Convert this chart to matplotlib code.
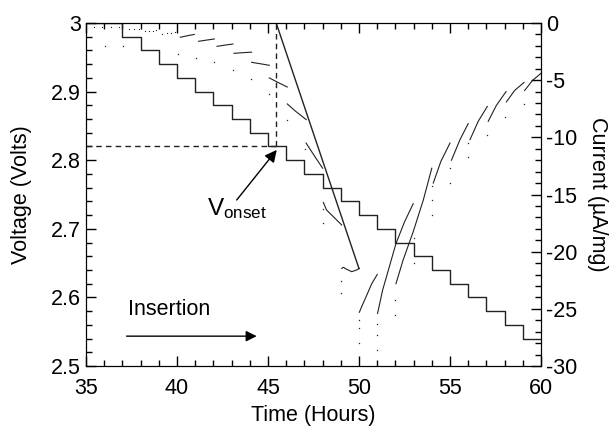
import matplotlib
matplotlib.use("Agg")
import matplotlib.pyplot as plt
from matplotlib.ticker import MultipleLocator, FuncFormatter

plt.rcParams['font.family'] = ['Liberation Sans', 'DejaVu Sans']
plt.rcParams['axes.unicode_minus'] = False
plt.rcParams['mathtext.fontset'] = 'custom'
plt.rcParams['mathtext.rm'] = 'Liberation Sans'

# ---- Voltage staircase (left axis) ----
step_edges = [35, 37, 38, 39, 40, 41, 42, 43, 44, 45, 46, 47, 48, 49, 50,
              51, 52, 53, 54, 55, 56, 57, 58, 59, 60]
step_volts = [3.00, 2.98, 2.96, 2.94, 2.92, 2.90, 2.88, 2.86, 2.84, 2.82,
              2.80, 2.78, 2.76, 2.74, 2.72, 2.70, 2.68, 2.66, 2.64, 2.62,
              2.60, 2.58, 2.56, 2.54]

# ---- Current (right axis): sparse early dots ----
early_t = [35.46, 35.90, 36.40, 36.80, 37.38, 37.65, 37.93,
           38.26, 38.48, 38.66, 38.85, 39.20, 39.43, 39.67, 39.90]
early_I = [-0.38, -0.38, -0.36, -0.35, -0.52, -0.52, -0.50,
           -0.70, -0.68, -0.66, -0.64, -0.93, -0.89, -0.85, -0.82]

# ---- Current relaxation segments (one per potential step) ----
seg_t = [
    [40.18, 40.55, 40.95],
    [41.19, 41.60, 42.05],
    [42.20, 42.60, 43.07],
    [43.13, 43.60, 44.10],
    [44.10, 44.60, 45.07],
    [45.07, 45.55, 46.06],
    [46.06, 46.50, 47.10],
    [47.09, 47.50, 48.00],
    [48.04, 48.22, 48.59, 49.05],
    [49.05, 49.14, 49.32, 49.60, 49.87, 50.02],
    [50.02, 50.15, 50.40, 50.70, 51.00],
    [51.02, 51.30, 51.67, 52.03, 52.50, 52.98],
    [52.03, 52.43, 52.98, 53.53, 54.00],
    [54.08, 54.50, 55.00],
    [55.08, 55.55, 56.00],
    [56.10, 56.55, 57.05],
    [57.10, 57.55, 58.08],
    [58.10, 58.55, 59.07],
    [59.10, 59.55, 60.00],
]
seg_I = [
    [-1.25, -1.12, -1.00],
    [-1.60, -1.50, -1.40],
    [-2.04, -1.94, -1.84],
    [-2.65, -2.60, -2.55],
    [-3.44, -3.57, -3.70],
    [-4.80, -5.20, -5.60],
    [-7.08, -7.70, -8.45],
    [-10.5, -11.5, -12.7],
    [-15.7, -16.36, -16.94, -17.67],
    [-21.46, -21.37, -21.54, -21.75, -21.60, -21.46],
    [-25.3, -24.8, -23.9, -22.8, -22.0],
    [-25.4, -23.35, -21.3, -19.3, -17.4, -15.8],
    [-22.8, -20.7, -18.25, -15.5, -12.7],
    [-14.0, -12.1, -10.5],
    [-12.0, -10.2, -8.8],
    [-10.2, -8.6, -7.3],
    [-8.6, -7.2, -6.0],
    [-6.9, -5.9, -5.2],
    [-5.9, -5.0, -4.4],
]

# ---- Isolated first points after each step ----
spike_t = [36.05, 37.05, 40.05, 41.05, 42.06, 43.08, 44.06, 45.07, 46.06, 47.03,
           48.02, 48.02, 49.00, 49.00, 50.00, 50.00, 50.00, 51.00, 51.00, 51.00,
           52.00, 52.00, 53.00, 53.00, 54.03, 54.03, 54.03, 55.00, 55.00, 56.00,
           56.00, 57.05, 58.04, 59.07]
spike_I = [-2.0, -2.05, -2.7, -3.05, -3.44, -4.08, -4.87, -6.2, -8.45, -11.05,
           -16.3, -17.5, -22.6, -23.6, -26.0, -26.7, -28.0, -26.3, -27.3, -28.6,
           -24.2, -25.5, -21.0, -18.8, -14.3, -15.5, -16.8, -12.7, -14.0, -10.5,
           -11.7, -9.8, -8.25, -7.1]

# ---- Annotations ----
tangent_t = [45.45, 50.0]
tangent_V = [3.0, 2.642]
onset_t = 45.42
onset_V = 2.82

fig = plt.figure(figsize=(6.16, 4.32), dpi=100)
ax = fig.add_axes([86/616, 1-366/432, (541-86)/616, (366-23)/432])
ax2 = ax.twinx()

fs = 15.5
ink = '#222222'
ax.step(step_edges, step_volts + [step_volts[-1]], where='post', color=ink, lw=1.0)
ax.plot(tangent_t, tangent_V, color=ink, lw=1.0)
ax.plot([35, onset_t], [onset_V, onset_V], color=ink, lw=1.0, dashes=(4, 3))
ax.plot([onset_t, onset_t], [onset_V, 3.0], color=ink, lw=1.0, dashes=(4, 3))

ax2.plot(early_t, early_I, ls='none', marker='s', ms=0.8, mew=0, color=ink)
for ts, cs in zip(seg_t, seg_I):
    ax2.plot(ts, cs, color=ink, lw=0.8)
ax2.plot(spike_t, spike_I, ls='none', marker='s', ms=0.9, mew=0, color=ink)

ax.set_xlim(35, 60)
ax.set_ylim(2.5, 3.0)
ax2.set_ylim(-30, 0)

ax.xaxis.set_major_locator(MultipleLocator(5))
ax.xaxis.set_minor_locator(MultipleLocator(1))
ax.yaxis.set_major_locator(MultipleLocator(0.1))
ax.yaxis.set_minor_locator(MultipleLocator(0.02))
ax2.yaxis.set_major_locator(MultipleLocator(5))
ax2.yaxis.set_minor_locator(MultipleLocator(1))

ax.yaxis.set_major_formatter(FuncFormatter(lambda v, p: f"{v:g}"))
ax2.yaxis.set_major_formatter(FuncFormatter(lambda v, p: f"{v:g}"))

ax.tick_params(axis='x', which='both', direction='in', top=True, labelsize=fs, pad=9)
ax.tick_params(axis='y', which='both', direction='in', right=False, labelsize=fs)
ax.tick_params(which='major', length=7, width=1)
ax.tick_params(which='minor', length=4, width=1)
ax2.tick_params(axis='y', which='both', direction='in', labelsize=fs)
ax2.tick_params(which='major', length=7, width=1)
ax2.tick_params(which='minor', length=4, width=1)

ax.set_xlabel("Time (Hours)", fontsize=fs, labelpad=4)
ax.set_ylabel("Voltage (Volts)", fontsize=fs, labelpad=14)
ax2.set_ylabel("Current (\u00b5A/mg)", fontsize=fs, rotation=270, labelpad=22)

ax.text(41.65, 2.72, r"$\mathregular{V_{onset}}$", fontsize=fs+2, ha='left', va='baseline')
ax.annotate("", xy=(45.48, 2.815), xytext=(43.28, 2.742),
            arrowprops=dict(arrowstyle='-|>', color='black', lw=1.0,
                            mutation_scale=18, shrinkA=0, shrinkB=0))
ax.text(37.3, 2.574, "Insertion", fontsize=fs, ha='left', va='baseline')
ax.annotate("", xy=(44.38, 2.5435), xytext=(37.23, 2.5435),
            arrowprops=dict(arrowstyle='-|>', color='black', lw=1.0,
                            mutation_scale=16, shrinkA=0, shrinkB=0))

fig.savefig("out.png", dpi=100)
